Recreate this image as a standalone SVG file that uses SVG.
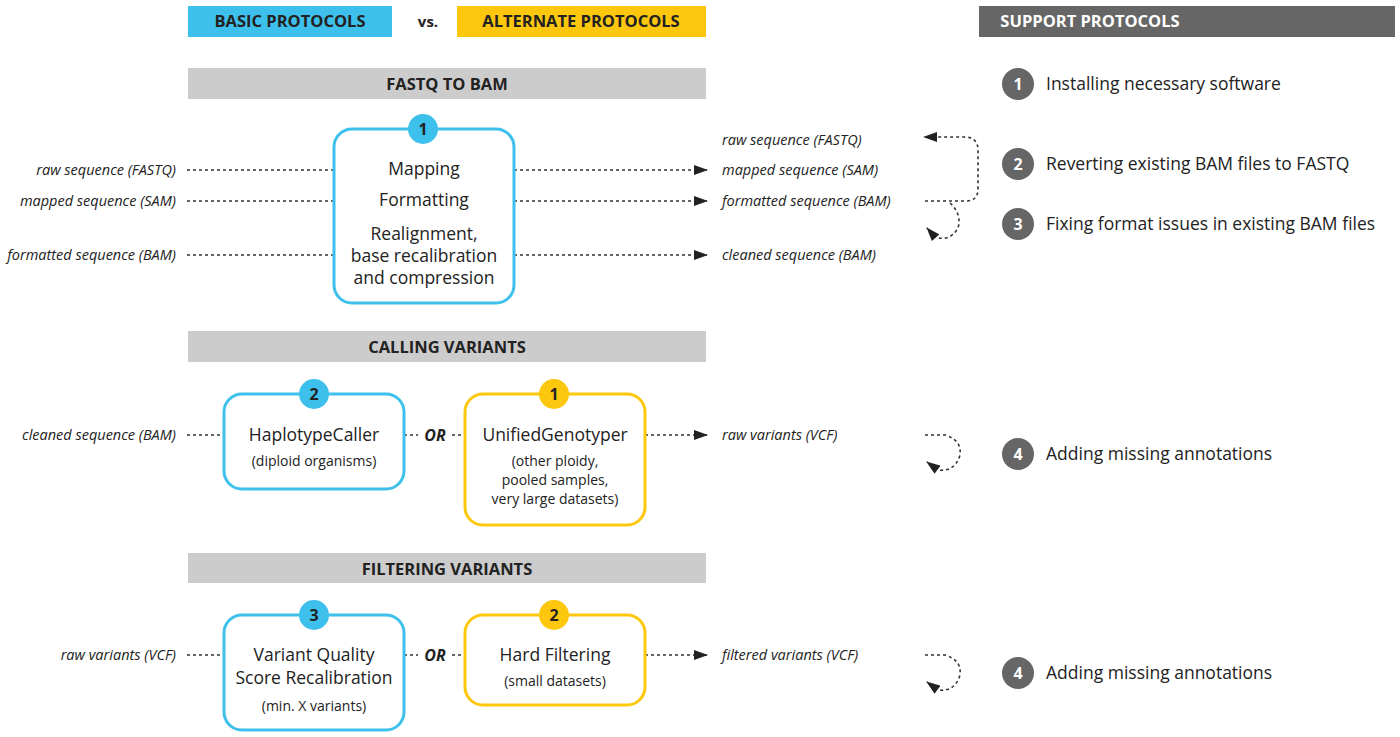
<svg xmlns="http://www.w3.org/2000/svg" width="1400" height="737" viewBox="0 0 1400 737">
<defs>
<marker id="ah" viewBox="0 0 14 10" refX="13" refY="5" markerWidth="15" markerHeight="10" markerUnits="userSpaceOnUse" orient="auto"><path d="M0,0 L14,5 L0,10 z" fill="#222"/></marker>
<style>
text{font-family:"Open Sans","Liberation Sans",sans-serif;fill:#222}
.hd{font-weight:bold;font-size:16.5px;text-anchor:middle}
.lb{font-style:italic;font-size:14.5px}
.r{text-anchor:end}
.bt{font-size:17.5px;text-anchor:middle}
.sm{font-size:14px;text-anchor:middle}
.num{font-weight:bold;font-size:16px;text-anchor:middle}
.sp{font-size:17.5px}
.dl{fill:none;stroke:#333;stroke-width:1.6;stroke-dasharray:3,3}
.bb{fill:#fff;stroke:#3ec0ec;stroke-width:3}
.yb{fill:#fff;stroke:#fdc70e;stroke-width:3}
.bar{fill:#cccccc}
</style>
</defs>
<g id="header">
<rect x="188" y="6" width="204" height="31" fill="#3ec0ec"/><text class="hd" x="290" y="27">BASIC PROTOCOLS</text>
<text x="428" y="27" font-weight="bold" font-size="15" text-anchor="middle">vs.</text>
<rect x="457" y="6" width="249" height="31" fill="#fdc70e"/><text class="hd" x="581" y="27">ALTERNATE PROTOCOLS</text>
<rect x="979" y="6" width="416" height="31" fill="#666"/><text class="hd" x="1090" y="27" style="fill:#fff">SUPPORT PROTOCOLS</text>
</g>
<g id="sections">
<rect class="bar" x="188" y="68" width="518" height="31"/><text class="hd" x="447" y="90">FASTQ TO BAM</text>
<rect class="bar" x="188" y="331" width="518" height="31"/><text class="hd" x="447" y="353">CALLING VARIANTS</text>
<rect class="bar" x="188" y="553" width="518" height="30"/><text class="hd" x="447" y="575">FILTERING VARIANTS</text>
</g>
<g id="connectors">
<path class="dl" d="M187,170 H334 M187,201 H334 M187,255 H334"/>
<path class="dl" d="M514,170 H707" marker-end="url(#ah)"/>
<path class="dl" d="M514,201 H707" marker-end="url(#ah)"/>
<path class="dl" d="M514,255 H707" marker-end="url(#ah)"/>
<path class="dl" d="M925,201 H966 Q978,201 978,189 V150 Q978,137 964,137 H924" marker-end="url(#ah)"/>
<path class="dl" d="M950,203 Q962,214 958,228 Q950,242 935,237 L927,228" marker-end="url(#ah)"/>
<path class="dl" d="M187,435 H224 M404,435 H418 M452,435 H465"/>
<path class="dl" d="M645,435 H707" marker-end="url(#ah)"/>
<path class="dl" d="M925,435 H945 Q962,440 960,455 Q955,472 938,470 L927,462" marker-end="url(#ah)"/>
<path class="dl" d="M187,655 H224 M404,655 H418 M452,655 H465"/>
<path class="dl" d="M645,655 H707" marker-end="url(#ah)"/>
<path class="dl" d="M925,655 H945 Q962,660 960,675 Q955,692 938,690 L927,682" marker-end="url(#ah)"/>
<text x="435" y="441" font-weight="bold" font-style="italic" font-size="16" text-anchor="middle">OR</text>
<text x="435" y="661" font-weight="bold" font-style="italic" font-size="16" text-anchor="middle">OR</text>
</g>
<g id="labels">
<text class="lb r" x="176" y="175">raw sequence (FASTQ)</text>
<text class="lb r" x="176" y="206">mapped sequence (SAM)</text>
<text class="lb r" x="176" y="260">formatted sequence (BAM)</text>
<text class="lb" x="722" y="145">raw sequence (FASTQ)</text>
<text class="lb" x="722" y="175">mapped sequence (SAM)</text>
<text class="lb" x="722" y="206">formatted sequence (BAM)</text>
<text class="lb" x="722" y="260">cleaned sequence (BAM)</text>
<text class="lb r" x="176" y="440">cleaned sequence (BAM)</text>
<text class="lb" x="722" y="440">raw variants (VCF)</text>
<text class="lb r" x="176" y="660">raw variants (VCF)</text>
<text class="lb" x="722" y="660">filtered variants (VCF)</text>
</g>
<g id="node-fastq">
<rect class="bb" x="334" y="129" width="180" height="174" rx="18"/>
<circle cx="423" cy="129" r="15" fill="#3ec0ec"/><text class="num" x="423" y="135">1</text>
<text class="bt" x="424" y="175">Mapping</text>
<text class="bt" x="424" y="206">Formatting</text>
<text class="bt" x="424" y="240">Realignment,</text>
<text class="bt" x="424" y="262">base recalibration</text>
<text class="bt" x="424" y="284">and compression</text>
</g>
<g id="node-haplotype">
<rect class="bb" x="224" y="394" width="180" height="95" rx="18"/>
<circle cx="314" cy="394" r="15" fill="#3ec0ec"/><text class="num" x="314" y="400">2</text>
<text class="bt" x="314" y="441">HaplotypeCaller</text>
<text class="sm" x="314" y="466">(diploid organisms)</text>
</g>
<g id="node-unified">
<rect class="yb" x="465" y="394" width="180" height="131" rx="18"/>
<circle cx="554" cy="394" r="15" fill="#fdc70e"/><text class="num" x="554" y="400">1</text>
<text class="bt" x="555" y="441">UnifiedGenotyper</text>
<text class="sm" x="555" y="466">(other ploidy,</text>
<text class="sm" x="555" y="485">pooled samples,</text>
<text class="sm" x="555" y="504">very large datasets)</text>
</g>
<g id="node-vqsr">
<rect class="bb" x="224" y="615" width="180" height="115" rx="18"/>
<circle cx="314" cy="615" r="15" fill="#3ec0ec"/><text class="num" x="314" y="621">3</text>
<text class="bt" x="314" y="661">Variant Quality</text>
<text class="bt" x="314" y="684">Score Recalibration</text>
<text class="sm" x="314" y="711">(min. X variants)</text>
</g>
<g id="node-hard">
<rect class="yb" x="465" y="615" width="180" height="90" rx="18"/>
<circle cx="554" cy="615" r="15" fill="#fdc70e"/><text class="num" x="554" y="621">2</text>
<text class="bt" x="555" y="661">Hard Filtering</text>
<text class="sm" x="555" y="686">(small datasets)</text>
</g>
<g id="support">
<circle cx="1018" cy="84" r="16" fill="#666"/><text class="num" x="1018" y="90" style="fill:#fff">1</text><text class="sp" x="1046" y="90">Installing necessary software</text>
<circle cx="1018" cy="164" r="16" fill="#666"/><text class="num" x="1018" y="170" style="fill:#fff">2</text><text class="sp" x="1046" y="170">Reverting existing BAM files to FASTQ</text>
<circle cx="1018" cy="224" r="16" fill="#666"/><text class="num" x="1018" y="230" style="fill:#fff">3</text><text class="sp" x="1046" y="230">Fixing format issues in existing BAM files</text>
<circle cx="1018" cy="454" r="16" fill="#666"/><text class="num" x="1018" y="460" style="fill:#fff">4</text><text class="sp" x="1046" y="460">Adding missing annotations</text>
<circle cx="1018" cy="673" r="16" fill="#666"/><text class="num" x="1018" y="679" style="fill:#fff">4</text><text class="sp" x="1046" y="679">Adding missing annotations</text>
</g>
</svg>
